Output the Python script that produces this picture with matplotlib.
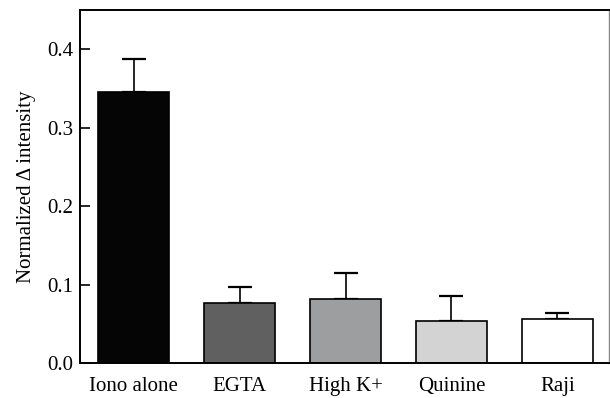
import matplotlib.pyplot as plt
import numpy as np

categories = ["Iono alone", "EGTA", "High K+", "Quinine", "Raji"]
means = [0.345, 0.077, 0.082, 0.053, 0.056]
errors = [0.042, 0.020, 0.033, 0.032, 0.008]
colors = ["#050505", "#5f605f", "#9d9ea0", "#d3d3d3", "#ffffff"]

plt.rcParams['font.family'] = ['Liberation Serif', 'DejaVu Serif']

fig = plt.figure(figsize=(6.1, 3.98), dpi=100)
ax = fig.add_axes([80 / 610, 35 / 398, 529 / 610, 353 / 398])

x = np.arange(len(categories))
ax.bar(x, means, width=0.67, color=colors, edgecolor="black", linewidth=1.2, zorder=2)
ax.errorbar(x, means, yerr=[np.zeros(len(errors)), errors], fmt="none",
            ecolor="black", elinewidth=1.2, capsize=8.6, capthick=1.6, zorder=1)

ax.set_xlim(-0.505, 4.486)
ax.set_ylim(0, 0.45)
ax.set_yticks([0.0, 0.1, 0.2, 0.3, 0.4])
ax.set_yticklabels(["0.0", "0.1", "0.2", "0.3", "0.4"])
ax.set_xticks(x)
ax.set_xticklabels(categories)
ax.tick_params(axis="y", direction="in", length=7, width=1.2, labelsize=15, pad=5)
ax.tick_params(axis="x", length=0, labelsize=15, pad=10)
ax.set_ylabel("Normalized \u0394 intensity", fontsize=15, labelpad=8)

for side in ["left", "bottom", "top"]:
    ax.spines[side].set_linewidth(1.4)
ax.spines["right"].set_color("#888888")
ax.spines["right"].set_linewidth(1.0)

fig.savefig("out.png", dpi=100)
